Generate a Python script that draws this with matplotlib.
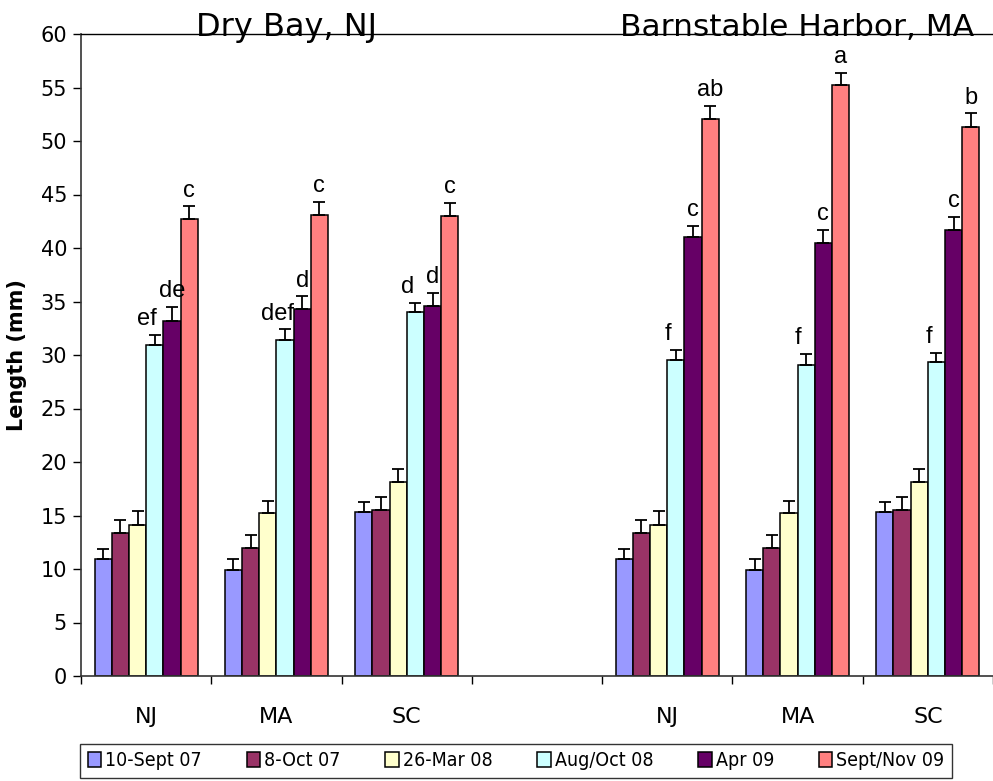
import numpy as np
import matplotlib
matplotlib.use("Agg")
import matplotlib.pyplot as plt

# categories along x (empty slot separates the two sites)
categories = ["NJ", "MA", "SC", "", "NJ", "MA", "SC"]
sites = ["Dry Bay, NJ", "Barnstable Harbor, MA"]
series = ["10-Sept 07", "8-Oct 07", "26-Mar 08", "Aug/Oct 08", "Apr 09", "Sept/Nov 09"]
colors = ["#9999FF", "#993366", "#FFFFCC", "#CCFFFF", "#660066", "#FF8080"]

# mean length (mm): Dry Bay NJ, MA, SC, then Barnstable NJ, MA, SC
sept07 = [10.9, 9.9, 15.3, 10.9, 9.9, 15.3]
oct07 = [13.4, 12.0, 15.5, 13.4, 12.0, 15.5]
mar08 = [14.1, 15.2, 18.1, 14.1, 15.2, 18.1]
augoct08 = [30.9, 31.4, 34.0, 29.5, 29.1, 29.3]
apr09 = [33.2, 34.3, 34.6, 41.0, 40.5, 41.7]
septnov09 = [42.7, 43.1, 43.0, 52.1, 55.2, 51.3]

# standard errors (upper bars only)
sept07_se = [1.0, 1.0, 1.0, 1.0, 1.0, 1.0]
oct07_se = [1.2, 1.2, 1.2, 1.2, 1.2, 1.2]
mar08_se = [1.3, 1.2, 1.2, 1.3, 1.2, 1.2]
augoct08_se = [1.0, 1.0, 0.9, 1.0, 1.0, 0.9]
apr09_se = [1.3, 1.2, 1.2, 1.1, 1.2, 1.2]
septnov09_se = [1.2, 1.2, 1.2, 1.2, 1.2, 1.3]

# significance letters
augoct08_lbl = ["ef", "def", "d", "f", "f", "f"]
apr09_lbl = ["de", "d", "d", "c", "c", "c"]
septnov09_lbl = ["c", "c", "c", "ab", "a", "b"]

means = [sept07, oct07, mar08, augoct08, apr09, septnov09]
errs = [sept07_se, oct07_se, mar08_se, augoct08_se, apr09_se, septnov09_se]
letters = [None, None, None, augoct08_lbl, apr09_lbl, septnov09_lbl]
label_dx = [0, 0, 0, -0.06, 0, 0]

x_idx = np.array([0, 1, 2, 4, 5, 6])
w = 0.132

fig = plt.figure(figsize=(9.93, 7.81), dpi=100)
ax = fig.add_axes([81 / 993, 105 / 781, 912 / 993, 642 / 781])

for i in range(6):
    xs = x_idx + (i - 2.5) * w
    ax.bar(xs, means[i], width=w, color=colors[i], edgecolor="black",
           linewidth=1.1, label=series[i], zorder=2)
    ax.errorbar(xs, means[i], yerr=[np.zeros(6), errs[i]], fmt="none",
                ecolor="black", elinewidth=1.3, capsize=4, capthick=1.3, zorder=3)
    if letters[i] is not None:
        for x, m, e, t in zip(xs, means[i], errs[i], letters[i]):
            ax.text(x + label_dx[i], m + e + 0.9, t, ha="center", va="baseline",
                    fontsize=17, family=["Liberation Sans", "DejaVu Sans"])

ax.set_ylim(0, 60)
ax.set_xlim(-0.5, -0.5 + 912 / 131.7)
ax.set_yticks(np.arange(0, 61, 5))
ax.tick_params(axis="y", labelsize=15, direction="out", length=6, width=1, pad=4)

ax.set_xticks(range(7))
ax.set_xticklabels(categories)
ax.set_xticks(np.arange(-0.5, 7, 1), minor=True)
ax.tick_params(axis="x", which="major", length=0, labelsize=16, pad=22)
ax.tick_params(axis="x", which="minor", direction="out", length=6, width=1)

ax.set_ylabel("Length (mm)", fontsize=15, fontweight="bold", labelpad=10)

for s in ["left", "bottom"]:
    ax.spines[s].set_color("#333333")
    ax.spines[s].set_linewidth(1.2)
ax.spines["top"].set_linewidth(1.0)
ax.spines["right"].set_visible(False)

fig.text(287 / 993, 1 - 36 / 781, sites[0], ha="center", va="baseline", fontsize=23)
fig.text(797 / 993, 1 - 36 / 781, sites[1], ha="center", va="baseline", fontsize=22.5)

leg = fig.legend(loc="center", bbox_to_anchor=(516 / 993, 1 - 761 / 781), ncol=6,
                 frameon=True, fancybox=False, edgecolor="black", handlelength=0.7,
                 handleheight=0.8, handletextpad=0.2, columnspacing=2.3,
                 borderpad=0.4, borderaxespad=0,
                 prop={"family": "DejaVu Sans", "stretch": "condensed", "size": 14})
leg.get_frame().set_linewidth(1.0)

fig.savefig("out.png", dpi=100)
